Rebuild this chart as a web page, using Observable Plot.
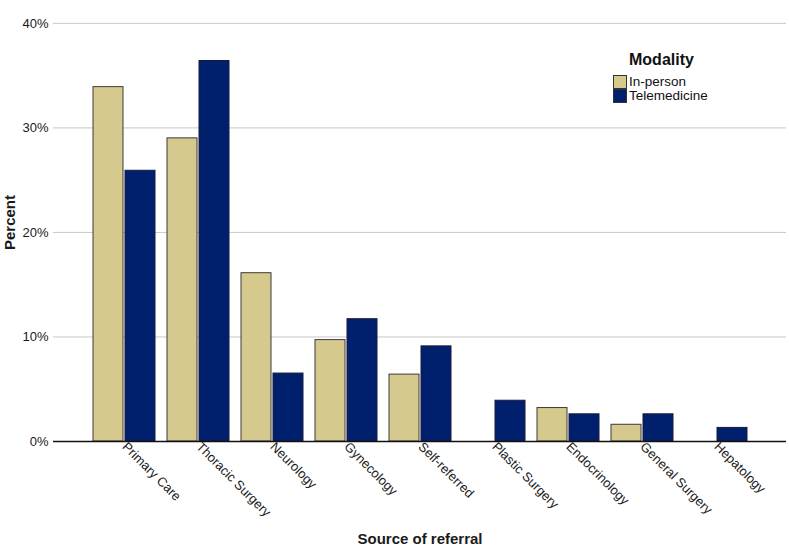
<!DOCTYPE html>
<html><head><meta charset="utf-8">
<script src="https://cdn.jsdelivr.net/npm/d3@7"></script>
<script src="https://cdn.jsdelivr.net/npm/@observablehq/plot@0.6"></script>
<style>
body{margin:0;background:#fff;font-family:"Liberation Sans",Arial,sans-serif;}
#wrap{position:relative;width:789px;height:548px;overflow:hidden;}
#wrap svg{font-family:"Liberation Sans",Arial,sans-serif;color:#1a1a1a;}
g[aria-label$="axis label"] text{font-weight:bold;font-size:15px;}
#legend{position:absolute;left:613px;top:51px;font-family:"Liberation Sans",Arial,sans-serif;color:#111;}
#legend .title{font-weight:bold;font-size:16px;margin-left:16px;margin-bottom:6px;line-height:18px;}
#legend .item{display:flex;align-items:center;font-size:13.5px;line-height:14px;height:14px;}
#legend .sw{width:12px;height:12px;border:1px solid #333;margin-right:2px;box-sizing:content-box;}
</style></head><body><div id="wrap"><div id="legend"></div></div>
<script>
const categories = ["Primary Care","Thoracic Surgery","Neurology","Gynecology","Self-referred","Plastic Surgery","Endocrinology","General Surgery","Hepatology"];
const inPerson =     [33.9, 29.0, 16.1, 9.7, 6.4, 0,   3.2, 1.6, 0];
const telemedicine = [25.9, 36.4, 6.5, 11.7, 9.1, 3.9, 2.6, 2.6, 1.3];
const modalities = ["In-person","Telemedicine"];
const colors = ["#d6c98e","#00206e"];
const yTicks = [0,10,20,30,40];

const rows = categories.flatMap((c,i)=>[
  {category:c, modality:modalities[0], value:inPerson[i]},
  {category:c, modality:modalities[1], value:telemedicine[i]}
]).filter(d=>d.value>0);

const chart = Plot.plot({
  width:789, height:548,
  marginLeft:53, marginRight:3, marginTop:3, marginBottom:107,
  x:{type:"band", domain:categories, paddingInner:0.168, paddingOuter:0.51, label:"Source of referral"},
  y:{domain:[0,41.9], label:"Percent"},
  color:{domain:modalities, range:colors},
  marks:[
    Plot.gridY(yTicks, {stroke:"#c8c8c8", strokeOpacity:1}),
    Plot.barY(rows.filter(d=>d.modality===modalities[0]), {x:"category", y:"value", fill:"modality", stroke:"#3a3a3a", strokeWidth:1, insetRight:32}),
    Plot.barY(rows.filter(d=>d.modality===modalities[1]), {x:"category", y:"value", fill:"modality", stroke:"#1a1a3a", strokeWidth:1, insetLeft:32}),
    Plot.axisY({ticks:yTicks, tickFormat:d=>d+"%", tickSize:0, tickPadding:5, fontSize:13, label:"Percent", labelArrow:"none", labelAnchor:"center", labelOffset:49, line:true}),
    Plot.axisX({tickSize:0, tickPadding:3, tickRotate:45, fontSize:13, label:"Source of referral", labelArrow:"none", labelAnchor:"center", labelOffset:102}),
    Plot.ruleY([0], {stroke:"#111", strokeWidth:1.5})
  ]
});
document.getElementById("wrap").prepend(chart);

const lg = document.getElementById("legend");
lg.innerHTML = `<div class="title">Modality</div>` + modalities.map((m,i)=>`<div class="item"><span class="sw" style="background:${colors[i]}"></span>${m}</div>`).join("");
</script>
</body></html>
